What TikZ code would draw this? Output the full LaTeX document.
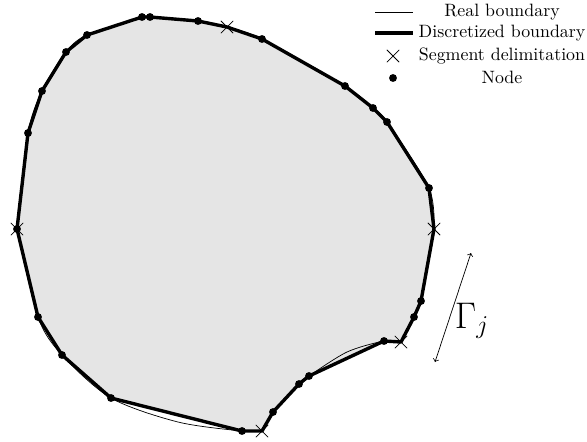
\documentclass[tikz,border=0pt]{standalone}
\usepackage{amsmath,amssymb}
\usepackage{tikz}
\usetikzlibrary{shapes.misc}

\begin{document}
\begin{tikzpicture}[
  x=0.56pt, y=-0.56pt,
  realb/.style={black, thin},
  discb/.style={black, line width=1.9pt, line join=round},
  nodept/.style={circle, fill=black, inner sep=0pt, minimum size=4.4pt},
  segx/.style={cross out, draw=black, thin, inner sep=0pt, minimum size=6.5pt},
  legtext/.style={anchor=center, inner sep=1pt}
]
\useasboundingbox (0,0) rectangle (587,441);

% boundary points, clockwise from the left delimitation
\foreach [count=\i] \px/\py in {17/229,28/133,42/91,66/52,87/35,142/17,
    150/17,198/21,227/27,262/39,345/86,373/108,387/122,429/188,
    434/229,421/301,414/317,401/342,384/341,309/376,299/384,
    273/412,262/431,242/431,111/398,62/355,38/317}
  \coordinate (b\i) at (\px,\py);
\coordinate (r1) at (347,352);
\coordinate (r2) at (178,422);

% domain
\fill[gray!20] (b1) \foreach \i in {2,...,27} {-- (b\i)} -- cycle;

% real boundary, one piece per segment
\draw[realb] plot[smooth] coordinates {(b1) (b2) (b3) (b4) (b5) (b6) (b7) (b8) (b9)};
\draw[realb] plot[smooth] coordinates {(b9) (b10) (b11) (b12) (b13) (b14) (b15)};
\draw[realb] plot[smooth] coordinates {(b15) (b16) (b17) (b18)};
\draw[realb] plot[smooth] coordinates {(b18) (b19) (r1) (b20) (b21) (b22) (b23)};
\draw[realb] plot[smooth] coordinates {(b23) (b24) (r2) (b25) (b26) (b27) (b1)};

% discretized boundary
\draw[discb] (b1) \foreach \i in {2,...,27} {-- (b\i)} -- cycle;

\foreach \i in {1,2,3,4,5,6,7,8,10,11,12,13,14,16,17,19,20,21,22,24,25,26,27}
  \node[nodept] (n\i) at (b\i) {};
\foreach \i in {1,9,15,18,23}
  \node[segx] (x\i) at (b\i) {};

% segment Gamma_j
\coordinate (ga) at (435,362);
\coordinate (gb) at (471,253);
\draw[<->, thin] (ga) -- (gb);
\node (gam) at (472,321) {\huge $\Gamma_j$};

% legend
\coordinate (lra) at (375,12);  \coordinate (lrb) at (413,12);
\coordinate (lda) at (375,33);  \coordinate (ldb) at (413,33);
\draw[realb] (lra) -- (lrb);
\draw[discb] (lda) -- (ldb);
\node[segx] (lx) at (393,56) {};
\node[nodept] (ln) at (393,78) {};
\node[legtext] (treal) at (502,12) {Real boundary};
\node[legtext] (tdisc) at (502,33) {Discretized boundary};
\node[legtext] (tseg) at (502,56) {Segment delimitation};
\node[legtext] (tnode) at (502,77) {Node};
\end{tikzpicture}
\end{document}
